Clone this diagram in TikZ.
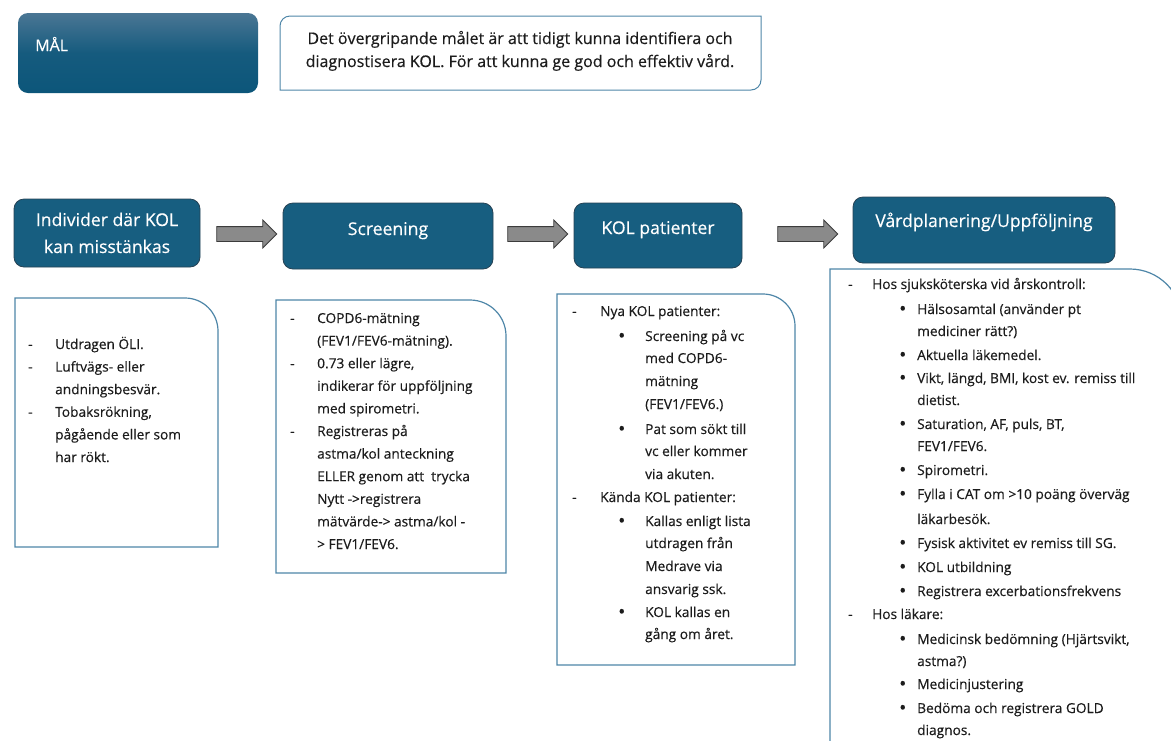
\documentclass[tikz,border=0pt]{standalone}
\usepackage{fontspec}
\setmainfont{Open Sans}[FakeBold=0.35]
\usetikzlibrary{shapes.arrows,calc}
\definecolor{hdr}{RGB}{23,94,128}
\definecolor{hdrline}{RGB}{38,66,84}
\definecolor{boxline}{RGB}{78,134,168}
\definecolor{txtc}{RGB}{28,28,28}
\definecolor{arrfill}{RGB}{138,138,138}
\definecolor{arrline}{RGB}{60,60,60}
\definecolor{maltop}{RGB}{74,118,148}
\definecolor{malbot}{RGB}{12,86,122}
\newcommand\bodyfont{\fontsize{13.7}{16}\selectfont}
\newcommand\hdrfont{\fontsize{17.6}{26}\selectfont}
\newcommand\bul{{\fontsize{19}{19}\selectfont\raisebox{-1.2pt}{•}}}
% dash item line: name, x of dash, x of text, baseline y, text
\newcommand\dl[5]{\node[txt] (#1) at (#2,#4) {\makebox[\dimexpr#3pt-#2pt\relax][l]{-}#5};}
% bullet item line
\newcommand\bl[5]{\node[txt] (#1) at (#2,#4) {\makebox[\dimexpr#3pt-#2pt\relax][l]{\bul}#5};}
% plain continuation line
\newcommand\cl[4]{\node[txt] (#1) at (#2,#3) {#4};}
% content box with rounded top right corner: x1,y1,x2,y2,r
\newcommand\cbox[5]{\draw[cboxline] (#1,#2) -- (#3-#5,#2) arc[start angle=-90,end angle=0,radius=#5] -- (#3,#4) -- (#1,#4) -- cycle;}
\begin{document}
\begin{tikzpicture}[x=1pt,y=-1pt,
  txt/.style={anchor=base west,inner sep=0pt,font=\bodyfont,text=txtc},
  hbox/.style={draw=hdrline,line width=0.8pt,fill=hdr,rounded corners=10pt,inner sep=0pt},
  htext/.style={anchor=base,inner sep=0pt,font=\hdrfont,text=white,align=center},
  cboxline/.style={draw=boxline,line width=1.2pt,fill=white},
  blockarrow/.style={single arrow,draw=arrline,line width=0.8pt,fill=arrfill,
    minimum height=60pt,inner xsep=0pt,inner ysep=7pt,single arrow head extend=6.5pt,
    single arrow head indent=0pt}]
\useasboundingbox (0,0) rectangle (1171,740);
\begin{scope}
\clip (0,0) rectangle (1171,740);
% MAL box
\node[rounded corners=10pt,top color=maltop,bottom color=malbot,middle color=malbot!85!maltop,
  minimum width=240pt,minimum height=80pt,inner sep=0pt] (mal) at (138,53) {};
\node[anchor=base west,inner sep=0pt,font=\fontsize{16}{18}\selectfont,text=white] (maltext) at (35,51) {MÅL};
% goal box
\draw[cboxline,line width=1pt] (280,26) arc[start angle=180,end angle=270,radius=10] -- (761,16) -- (761,80)
  arc[start angle=0,end angle=90,radius=10] -- (280,90) -- cycle;
\node[anchor=base,inner sep=0pt,font=\fontsize{16}{23}\selectfont,text=txtc,align=center] (goal) at (520,44)
  {Det övergripande målet är att tidigt kunna identifiera och};
\node[anchor=base,inner sep=0pt,font=\fontsize{16}{23}\selectfont,text=txtc,align=center] (goal2) at (520,67)
  {diagnostisera KOL. För att kunna ge god och effektiv vård.};
% header boxes
\node[hbox,minimum width=186pt,minimum height=68pt] (h1) at (107,233) {};
\node[htext] (h1a) at (107,226) {Individer där KOL};
\node[htext] (h1b) at (107,253) {kan misstänkas};
\node[hbox,minimum width=210pt,minimum height=66pt] (h2) at (388,236) {};
\node[htext] (h2a) at (388,235) {Screening};
\node[hbox,minimum width=168pt,minimum height=65pt] (h3) at (658,235.5) {};
\node[htext] (h3a) at (658,234) {KOL patienter};
\node[hbox,minimum width=262pt,minimum height=66pt] (h4) at (984,230) {};
\node[htext] (h4a) at (984,227) {Vårdplanering/Uppföljning};
% block arrows between header boxes
\node[blockarrow] (a1) at (243,234) {};
\node[blockarrow] (a2) at (534,234) {};
\node[blockarrow] (a3) at (804,234) {};
% box 1
\cbox{15}{298}{218}{547}{33}
\dl{b1a}{28}{55}{349}{Utdragen ÖLI.}
\dl{b1b}{28}{55}{371.6}{Luftvägs- eller}
\cl{b1c}{55}{394.2}{andningsbesvär.}
\dl{b1d}{28}{55}{416.8}{Tobaksrökning,}
\cl{b1e}{55}{439.4}{pågående eller som}
\cl{b1f}{55}{462}{har rökt.}
% box 2
\cbox{276}{300}{506}{573}{36}
\dl{b2a}{290}{317}{323}{COPD6-mätning}
\cl{b2b}{317}{345.6}{(FEV1/FEV6-mätning).}
\dl{b2c}{290}{317}{368.2}{0.73 eller lägre,}
\cl{b2d}{317}{390.8}{indikerar för uppföljning}
\cl{b2e}{317}{413.4}{med spirometri.}
\dl{b2f}{290}{317}{436}{Registreras på}
\cl{b2g}{317}{458.6}{astma/kol anteckning}
\cl{b2h}{317}{481.2}{ELLER genom att\ \ trycka}
\cl{b2i}{317}{503.8}{Nytt ->registrera}
\cl{b2j}{317}{526.4}{mätvärde-> astma/kol -}
\cl{b2k}{317}{549}{> FEV1/FEV6.}
% box 3
\cbox{557}{294}{795}{665}{32}
\dl{b3a}{572}{600}{316}{Nya KOL patienter:}
\bl{b3b}{618}{645}{341}{Screening på vc}
\cl{b3c}{645}{363}{med COPD6-}
\cl{b3d}{645}{386}{mätning}
\cl{b3e}{645}{409}{(FEV1/FEV6.)}
\bl{b3f}{618}{645}{434}{Pat som sökt till}
\cl{b3g}{645}{456}{vc eller kommer}
\cl{b3h}{645}{479}{via akuten.}
\dl{b3i}{572}{600}{502}{Kända KOL patienter:}
\bl{b3j}{618}{645}{526}{Kallas enligt lista}
\cl{b3k}{645}{548}{utdragen från}
\cl{b3l}{645}{571}{Medrave via}
\cl{b3m}{645}{594}{ansvarig ssk.}
\bl{b3n}{618}{645}{617}{KOL kallas en}
\cl{b3o}{645}{639}{gång om året.}
% box 4
\cbox{830}{269}{1182}{760}{52}
\dl{b4a}{848}{872}{289}{Hos sjuksköterska vid årskontroll:}
\bl{b4b}{899}{917}{314}{Hälsosamtal (använder pt}
\cl{b4c}{917}{336}{mediciner rätt?)}
\bl{b4d}{899}{917}{360}{Aktuella läkemedel.}
\bl{b4e}{899}{917}{383}{Vikt, längd, BMI, kost ev. remiss till}
\cl{b4f}{917}{405}{dietist.}
\bl{b4g}{899}{917}{429}{Saturation, AF, puls, BT,}
\cl{b4h}{917}{451}{FEV1/FEV6.}
\bl{b4i}{899}{917}{475}{Spirometri.}
\bl{b4j}{899}{917}{499}{Fylla i CAT om >10 poäng överväg}
\cl{b4k}{917}{524}{läkarbesök.}
\bl{b4l}{899}{917}{548}{Fysisk aktivitet ev remiss till SG.}
\bl{b4m}{899}{917}{572}{KOL utbildning}
\bl{b4n}{899}{917}{596}{Registrera excerbationsfrekvens}
\dl{b4o}{848}{872}{619}{Hos läkare:}
\bl{b4p}{899}{917}{644}{Medicinsk bedömning (Hjärtsvikt,}
\cl{b4q}{917}{666}{astma?)}
\bl{b4r}{899}{917}{689}{Medicinjustering}
\bl{b4s}{899}{917}{713}{Bedöma och registrera GOLD}
\cl{b4t}{917}{735}{diagnos.}
\end{scope}
\end{tikzpicture}
\end{document}
